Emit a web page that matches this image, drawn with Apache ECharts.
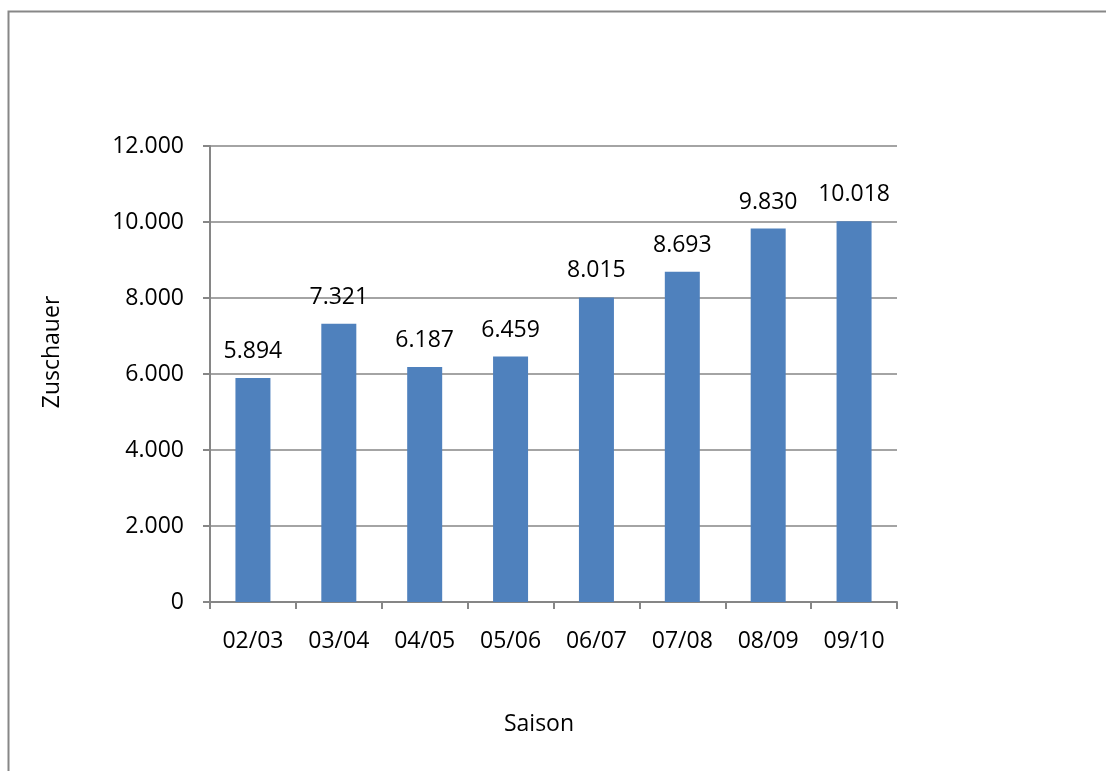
<!DOCTYPE html>
<html>
<head>
<meta charset="utf-8">
<script src="https://cdn.jsdelivr.net/npm/echarts@6/dist/echarts.min.js"></script>
<style>
  html, body { margin: 0; padding: 0; background: #fff; }
  #chart { width: 1106px; height: 771px; }
</style>
</head>
<body>
<div id="chart"></div>
<script>
// Saisons und Zuschauerzahlen
var saisons = ['02/03', '03/04', '04/05', '05/06', '06/07', '07/08', '08/09', '09/10'];
var zuschauer = [5894, 7321, 6187, 6459, 8015, 8693, 9830, 10018];

var myChart = echarts.init(document.getElementById('chart'));
var gridColor = '#868686';
var fontName = 'Open Sans';
var fontSize = 23;

// 12000 -> "12.000"
function fmt(v) {
    return String(v).replace(/\B(?=(\d{3})+(?!\d))/g, '.');
}

var option = {
    backgroundColor: '#fff',
    animation: false,
    textStyle: { fontFamily: fontName },
    graphic: [
        {
            type: 'rect',
            shape: { x: 8.5, y: 11.5, width: 1120, height: 800 },
            style: { fill: 'none', stroke: '#878787', lineWidth: 2 }
        },
        {
            type: 'text',
            x: 52, y: 352,
            rotation: Math.PI / 2,
            style: {
                text: 'Zuschauer', fill: '#000', font: fontSize + 'px "Open Sans"',
                align: 'center', verticalAlign: 'middle'
            }
        },
        {
            type: 'text',
            x: 539, y: 724,
            style: {
                text: 'Saison', fill: '#000', font: fontSize + 'px "Open Sans"',
                align: 'center', verticalAlign: 'middle'
            }
        }
    ],
    grid: { left: 210, right: 209, top: 146, bottom: 169 },
    xAxis: {
        type: 'category',
        data: saisons,
        axisLine: { lineStyle: { color: gridColor, width: 2 } },
        axisTick: { show: true, length: 7, lineStyle: { color: gridColor, width: 2 } },
        axisLabel: { color: '#000', fontSize: fontSize, margin: 28, fontFamily: fontName }
    },
    yAxis: {
        type: 'value',
        min: 0,
        max: 12000,
        interval: 2000,
        axisLine: { show: true, lineStyle: { color: gridColor, width: 2 } },
        axisTick: { show: true, length: 7, lineStyle: { color: gridColor, width: 2 } },
        splitLine: { lineStyle: { color: gridColor, width: 1.5 } },
        axisLabel: {
            color: '#000', fontSize: fontSize, margin: 26, fontFamily: fontName,
            formatter: fmt
        }
    },
    series: [{
        type: 'bar',
        data: zuschauer,
        barWidth: 35,
        itemStyle: { color: '#4f81bd' },
        label: {
            show: true,
            position: 'top',
            distance: 15,
            color: '#000',
            fontSize: fontSize,
            fontFamily: fontName,
            formatter: function (p) { return fmt(p.value); }
        }
    }]
};
myChart.setOption(option);
</script>
</body>
</html>
